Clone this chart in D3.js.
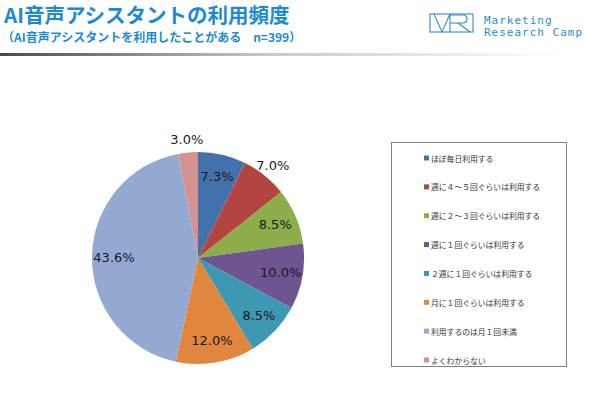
<!DOCTYPE html>
<html>
<head>
<meta charset="utf-8">
<script src="https://cdn.jsdelivr.net/npm/d3@7"></script>
<style>
  body { margin: 0; background: #fff; }
  svg { display: block; }
</style>
</head>
<body>
<div id="chart"></div>
<script>
// Data
const categories = [
    "ほぼ毎日利用する",
    "週に４～５回ぐらいは利用する",
    "週に２～３回ぐらいは利用する",
    "週に１回ぐらいは利用する",
    "２週に１回ぐらいは利用する",
    "月に１回ぐらいは利用する",
    "利用するのは月１回未満",
    "よくわからない"
];
const values = [7.3, 7.0, 8.5, 10.0, 8.5, 12.0, 43.6, 3.0];
const colors = ["#4271ab", "#b4443f", "#8cad4a", "#6f5492", "#3f98b1", "#e0863f", "#93a9d2", "#d49190"];

const title = "AI音声アシスタントの利用頻度";
const subtitle = "（AI音声アシスタントを利用したことがある　n=399）";

const viewW = 590;
const viewH = 407;
const blue = "#1a8ad6";

const svg = d3.select("#chart")
    .append("svg")
    .attr("width", viewW)
    .attr("height", viewH);

const defs = svg.append("defs");
const grad = defs.append("linearGradient").attr("id", "rule");
grad.append("stop").attr("offset", "0%").attr("stop-color", "#4a4a4a");
grad.append("stop").attr("offset", "45%").attr("stop-color", "#c8c8c8");
grad.append("stop").attr("offset", "95%").attr("stop-color", "#ffffff");

// Header
svg.append("text")
    .attr("x", 4)
    .attr("y", 22.5)
    .attr("fill", blue)
    .style("font-family", "'Noto Sans CJK JP', sans-serif")
    .style("font-weight", "bold")
    .style("font-size", "20.5px")
    .text(title);

svg.append("text")
    .attr("x", 2)
    .attr("y", 41.5)
    .attr("fill", blue)
    .style("font-family", "'Noto Sans CJK JP', sans-serif")
    .style("font-weight", "bold")
    .style("font-size", "12px")
    .text(subtitle);

svg.append("rect")
    .attr("x", 0)
    .attr("y", 53)
    .attr("width", viewW)
    .attr("height", 3)
    .attr("fill", "url(#rule)");

// Logo
const logo = svg.append("g")
    .attr("transform", "translate(430,14)")
    .attr("fill", "none")
    .attr("stroke", "#2f8cc6")
    .attr("stroke-width", 1.1);
logo.append("rect").attr("width", 43).attr("height", 18);
logo.append("path").attr("d", "M4,0 L12,18 L20,0 M20,0 L20,18");
logo.append("path").attr("d", "M20,1 L33,1 Q37,1 37,5 Q37,9 33,9 L20,9 M28,9 L40,18");

const logoText = svg.append("g")
    .attr("fill", "#2f8cc6")
    .style("font-family", "'DejaVu Sans Mono', monospace")
    .style("font-size", "11px")
    .style("letter-spacing", "1px");
logoText.append("text").attr("x", 484).attr("y", 24).text("Marketing");
logoText.append("text").attr("x", 484).attr("y", 36).text("Research Camp");

// Pie
const cx = 198;
const cy = 258;
const radius = 106;

const pie = d3.pie().sort(null).value(d => d);
const arc = d3.arc().innerRadius(0).outerRadius(radius);
const inArc = d3.arc().innerRadius(84).outerRadius(84);
const outArc = d3.arc().innerRadius(119).outerRadius(119);

const g = svg.append("g").attr("transform", `translate(${cx},${cy})`);
const arcs = pie(values);

g.selectAll("path")
    .data(arcs)
    .join("path")
    .attr("d", arc)
    .attr("fill", (d, i) => colors[i]);

g.selectAll("text")
    .data(arcs)
    .join("text")
    .attr("transform", d => `translate(${(d.value < 7.2 ? outArc : inArc).centroid(d)})`)
    .attr("text-anchor", "middle")
    .attr("dominant-baseline", "central")
    .attr("fill", "#1a1a1a")
    .style("font-family", "'DejaVu Sans', sans-serif")
    .style("font-size", "13px")
    .text(d => d3.format(".1f")(d.value) + "%");

// Legend
const legend = svg.append("g");
legend.append("rect")
    .attr("x", 391.5)
    .attr("y", 142.5)
    .attr("width", 175)
    .attr("height", 224)
    .attr("fill", "#fff")
    .attr("stroke", "#7f7f7f");

const ly = d3.scalePoint().domain(categories).range([158, 360]);

const items = legend.selectAll("g.item")
    .data(categories)
    .join("g")
    .attr("class", "item")
    .attr("transform", d => `translate(424,${ly(d)})`);

items.append("rect")
    .attr("x", 0)
    .attr("y", -2.5)
    .attr("width", 5)
    .attr("height", 5)
    .attr("fill", (d, i) => colors[i]);

items.append("text")
    .attr("x", 7)
    .attr("y", 0)
    .attr("dominant-baseline", "central")
    .attr("fill", "#333")
    .style("font-family", "'Noto Sans CJK JP', sans-serif")
    .style("font-size", "7.8px")
    .text(d => d);
</script>
</body>
</html>
